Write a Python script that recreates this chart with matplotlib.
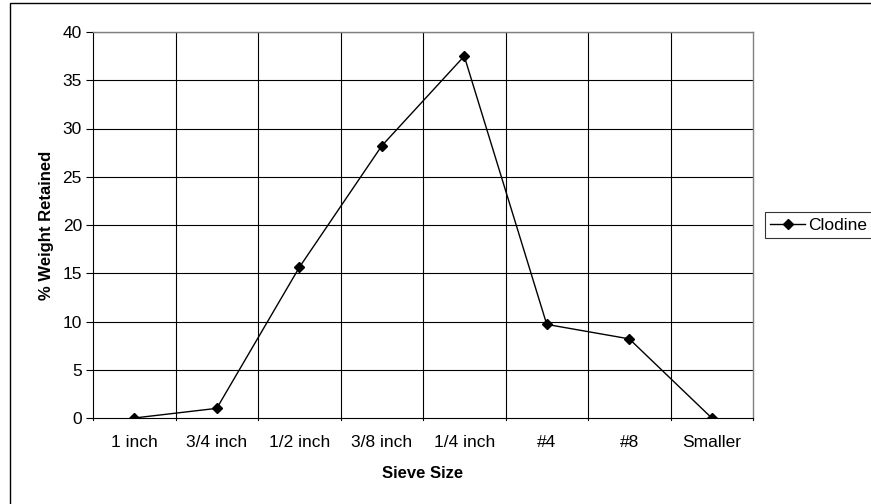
import matplotlib
matplotlib.use("Agg")
import matplotlib.pyplot as plt
from matplotlib.patches import Rectangle
from matplotlib.lines import Line2D

plt.rcParams['font.family'] = ['Liberation Sans', 'DejaVu Sans']

sieve_sizes = ["1 inch", "3/4 inch", "1/2 inch", "3/8 inch", "1/4 inch", "#4", "#8", "Smaller"]
clodine = [0.0, 1.0, 15.6, 28.2, 37.5, 9.7, 8.2, 0.0]
y_ticks = [0, 5, 10, 15, 20, 25, 30, 35, 40]

W, H = 871, 504
fig = plt.figure(figsize=(W / 100, H / 100), dpi=100)

# outer chart frame
fig.patches.append(Rectangle((9.5 / W, -0.1), 2, (H - 3.5) / H + 0.1,
                             transform=fig.transFigure, fill=False,
                             edgecolor='black', linewidth=1.0))

left, right, top, bottom = 93, 753, 32, 418
ax = fig.add_axes([left / W, 1 - bottom / H, (right - left) / W, (bottom - top) / H])

n = len(sieve_sizes)
x = list(range(n))
ax.plot(x, clodine, color='black', linewidth=1.0, marker='D', markersize=5,
        markerfacecolor='black', markeredgecolor='black', zorder=3)

ax.set_xlim(-0.5, n - 0.5)
ax.set_ylim(0, 40)
ax.set_yticks(y_ticks)
ax.set_xticks(x)
ax.set_xticklabels(sieve_sizes)
ax.tick_params(axis='x', length=0, pad=12, labelsize=12.5)
ax.tick_params(axis='y', length=5, width=0.8, direction='out', pad=3, labelsize=12.5)

# horizontal gridlines at every y tick, vertical lines between categories
for v in y_ticks[1:]:
    ax.axhline(v, color='black', linewidth=0.8, zorder=1)
for b in range(1, n):
    ax.axvline(b - 0.5, color='black', linewidth=0.8, zorder=1)
# category boundary tick marks below the axis
for b in range(n + 1):
    ax.plot([b - 0.5, b - 0.5], [0, -0.16 * 5 / 4], color='black', linewidth=0.8,
            clip_on=False, zorder=1)

for s in ['top', 'right']:
    ax.spines[s].set_color('#808080')
    ax.spines[s].set_linewidth(1.0)
ax.spines['left'].set_color('black')
ax.spines['bottom'].set_color('black')
ax.spines['left'].set_linewidth(0.8)
ax.spines['bottom'].set_linewidth(0.8)

ax.set_xlabel("Sieve Size", fontweight='bold', fontsize=12, labelpad=12)
ax.set_ylabel("% Weight Retained", fontweight='bold', fontsize=12, labelpad=6)

handle = Line2D([], [], color='black', linewidth=1.0, marker='D', markersize=5,
                markerfacecolor='black')
leg = fig.legend([handle], ["Clodine"], loc='center left',
                 bbox_to_anchor=(765 / W, 1 - 225 / H), frameon=True,
                 fancybox=False, edgecolor='black', fontsize=12.5,
                 handlelength=2.0, borderpad=0.3, handletextpad=0.2,
                 borderaxespad=0.0)
leg.get_frame().set_linewidth(0.8)

fig.savefig("out.png", dpi=100)
